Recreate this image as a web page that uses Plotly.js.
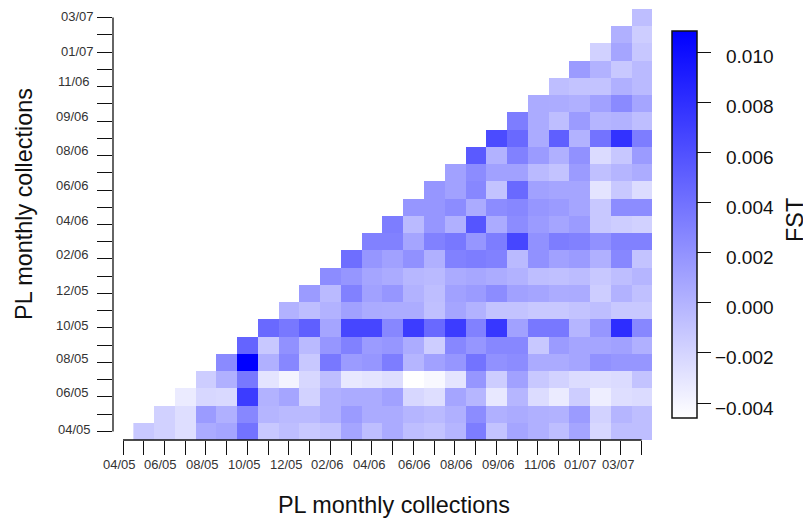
<!DOCTYPE html>
<html><head><meta charset="utf-8">
<script src="https://cdn.plot.ly/plotly-3.0.1.min.js"></script>
<style>html,body{margin:0;padding:0;background:#fff;overflow:hidden}</style>
</head><body><div id="chart" style="width:803px;height:519px"></div>
<script>
// FST values in thousandths; each row starts on the diagonal and runs to the last collection
var fstRow00=[-1.3,-1.8,-2.6,0.5,0.85,3.85,-1.3,-0.7,-1.3,-1.0,0.85,-0.7,0.5,-0.7,-1.0,-0.1,3.25,-1.0,0.85,0.2,-0.7,0.85,-2.2,-0.7,-0.7];
var fstRow01=[-1.8,-2.6,1.45,0.2,2.65,-0.1,-0.4,-0.4,0.2,1.45,0.5,0.5,-0.1,-0.4,0.2,2.35,0.2,0.5,0.2,0.05,1.45,-1.9,-0.1,-0.7];
var fstRow02=[-3.4,-2.2,-2.3,7.2,0.05,0.85,-1.9,0.2,0.5,0.5,1.1,-2.2,-2.6,0.85,-0.2,-3.2,-0.2,-2.5,-3.4,-1.6,-3.6,-2.6,-2.4];
var fstRow03=[-1.6,0.2,3.55,-3.0,-3.9,-2.2,-0.7,-3.2,-3.0,-2.6,-4.6,-4.2,-3.0,1.75,-1.6,1.1,-1.3,-1.9,-2.5,-2.6,-2.4,-1.0];
var fstRow04=[2.5,10.84,0.2,2.65,-1.3,3.55,1.45,1.75,3.25,-0.1,1.1,1.75,3.85,2.05,2.35,0.5,0.5,0.85,2.05,1.75,1.75];
var fstRow05=[4.8,-1.3,2.05,-0.4,1.75,3.0,1.45,1.75,0.4,-1.6,2.65,1.75,2.65,2.65,-1.3,1.45,0.85,0.85,1.1,0.2];
var fstRow06=[4.5,3.55,5.1,0.85,6.6,6.6,2.65,7.2,4.5,7.2,3.0,7.5,1.1,3.55,3.55,-0.1,1.75,8.1,2.65];
var fstRow07=[0.05,-0.7,0.05,1.1,0.5,0.4,0.4,-0.8,0.85,0.05,-1.0,-1.0,-1.3,-1.3,-1.0,-0.7,-1.3,-1.3];
var fstRow08=[1.45,-0.4,3.0,1.1,1.75,0.05,-0.7,1.1,1.45,2.35,1.1,0.85,0.4,0.5,-1.6,0.05,-0.8];
var fstRow09=[2.35,1.75,0.85,0.5,-0.25,-0.4,0.5,0.7,0.4,0.05,-0.7,-0.8,-0.55,-1.3,-0.7,-0.1];
var fstRow10=[4.15,1.75,1.1,2.05,0.2,3.0,3.25,3.0,-0.4,2.05,1.1,1.45,0.2,2.65,-1.0];
var fstRow11=[3.0,3.0,0.85,3.0,3.55,1.75,3.25,6.6,2.05,3.25,3.0,2.05,3.0,3.0];
var fstRow12=[3.25,-0.4,1.75,0.2,5.7,0.5,2.35,1.45,0.85,1.45,-1.3,-1.6,-1.8];
var fstRow13=[1.75,1.75,2.35,0.5,2.35,2.65,1.75,1.45,0.85,-1.3,2.35,2.35];
var fstRow14=[1.75,1.1,2.65,-1.0,4.5,1.1,0.85,0.85,-3.0,-1.3,-2.5];
var fstRow15=[1.1,2.35,1.1,1.1,-0.4,-1.0,1.45,-0.8,-0.1,0.4];
var fstRow16=[5.4,0.05,3.0,1.45,0.2,2.05,-2.4,-1.2,1.45];
var fstRow17=[6.3,4.5,0.5,5.1,0.05,3.85,7.8,3.25];
var fstRow18=[3.25,0.5,-0.7,1.45,-0.1,0.05,-0.7];
var fstRow19=[0.5,0.4,0.2,1.1,2.5,0.85];
var fstRow20=[-0.7,-1.0,-1.0,0.2,-0.4];
var fstRow21=[1.45,0.05,-1.3,-0.4];
var fstRow22=[-1.8,0.85,-1.2];
var fstRow23=[0.2,-1.6];
var fstRow24=[-0.7];
var tickLabels=["04/05","06/05","08/05","10/05","12/05","02/06","04/06","06/06","08/06","09/06","11/06","01/07","03/07"];
var colorTicks=[-0.004,-0.002,0,0.002,0.004,0.006,0.008,0.010];

// hand-placed label offsets seen in the reference (pixels)
var xLabelNudge=[-4,-3.5,-3,-3,-2,-2.5,-2,1.5,2,2.5,2,1.5,-2];
var yLabelNudge=[-2,-4,-4,-2,-3.4,-4,-3.6,-5,-5,-4.4,-5,-1,-1];
var yLabelRight=[92,90,90,90,90,90,90,90,90,90,91,95,95];

var rows=[fstRow00,fstRow01,fstRow02,fstRow03,fstRow04,fstRow05,fstRow06,fstRow07,fstRow08,fstRow09,fstRow10,fstRow11,fstRow12,fstRow13,fstRow14,fstRow15,fstRow16,fstRow17,fstRow18,fstRow19,fstRow20,fstRow21,fstRow22,fstRow23,fstRow24];
var n=rows.length;
var z=rows.map(function(r,i){var out=[];for(var c=0;c<n;c++){out.push(c<i?null:r[c-i]/1000);}return out;});
var xs=[],ys=[],xt=[],yt=[];
for(var i=0;i<n;i++){xs.push(i+1);ys.push(i);yt.push(i);}
for(var k=0;k<=n;k++){xt.push(k);}

var W=803,H=519,L=113,R=652,T=9.4,B=439.6;
var zMin=-0.00461,zMax=0.01084,barTop=31,barBottom=418;
var font='"Liberation Sans",Arial,sans-serif', ink='#111';
var ann=[];
tickLabels.forEach(function(t,i){
  ann.push({text:t,xref:'x',yref:'paper',x:i*2,y:0,xanchor:'center',yanchor:'middle',xshift:xLabelNudge[i],yshift:-24.5,showarrow:false,borderpad:0,font:{family:font,size:13,color:'#333'}});
  ann.push({text:t,xref:'paper',yref:'y',x:0,y:i*2,xanchor:'right',yanchor:'middle',xshift:yLabelRight[i]-L,yshift:-yLabelNudge[i],showarrow:false,borderpad:0,font:{family:font,size:13,color:'#333'}});
});
function px(x){return (x-L)/(R-L);}
function py(y){return (B-y)/(B-T);}
colorTicks.forEach(function(v){
  var yy=barTop+(zMax-v)/(zMax-zMin)*(barBottom-barTop);
  ann.push({text:v.toFixed(3).replace('-','\u2212'),xref:'paper',yref:'paper',x:px(775),y:py(yy),xanchor:'right',yanchor:'middle',yshift:-5,showarrow:false,borderpad:0,font:{family:font,size:19,color:ink}});
});
ann.push({text:'PL monthly collections',xref:'paper',yref:'paper',x:px(394),y:py(504.5),xanchor:'center',yanchor:'middle',showarrow:false,font:{family:font,size:23.4,color:ink}});
ann.push({text:'PL monthly collections',xref:'paper',yref:'paper',x:px(24),y:py(204),xanchor:'center',yanchor:'middle',textangle:-90,showarrow:false,font:{family:font,size:23.4,color:ink}});
ann.push({text:'FST',xref:'paper',yref:'paper',x:px(795),y:py(220),xanchor:'center',yanchor:'middle',textangle:-90,showarrow:false,font:{family:font,size:23.4,color:ink}});

var trace={type:'heatmap',x:xs,y:ys,z:z,zmin:zMin,zmax:zMax,hoverongaps:false,
  colorscale:[[0,'#ffffff'],[1,'#0000ff']],
  colorbar:{lenmode:'pixels',len:barBottom-barTop,thicknessmode:'pixels',thickness:25,
    x:px(672),xanchor:'left',y:py(barBottom),yanchor:'bottom',
    xpad:0,ypad:0,outlinewidth:1.5,outlinecolor:'#111',borderwidth:0,
    tickmode:'array',tickvals:colorTicks,showticklabels:false,ticks:'outside',ticklen:14,tickwidth:1,tickcolor:'#111'}};
var layout={width:W,height:H,autosize:false,paper_bgcolor:'#fff',plot_bgcolor:'#fff',showlegend:false,
  margin:{l:L,r:W-R,t:T,b:H-B,pad:0,autoexpand:false},
  xaxis:{range:[-0.482,25.5],tickmode:'array',tickvals:xt,showticklabels:false,ticks:'outside',ticklen:14,tickwidth:1,tickcolor:ink,showgrid:false,zeroline:false,showline:false},
  yaxis:{range:[-0.5,24.5],tickmode:'array',tickvals:yt,showticklabels:false,ticks:'outside',ticklen:15,tickwidth:1,tickcolor:ink,showgrid:false,zeroline:false,showline:false},
  shapes:[
    {type:'line',xref:'x',yref:'paper',x0:0,x1:n,y0:0,y1:0,line:{color:ink,width:1.3}},
    {type:'line',xref:'paper',yref:'y',x0:0,x1:0,y0:0,y1:n-1,line:{color:ink,width:1.3}}
  ],
  annotations:ann};
Plotly.newPlot('chart',[trace],layout,{displayModeBar:false,staticPlot:true});
</script></body></html>
